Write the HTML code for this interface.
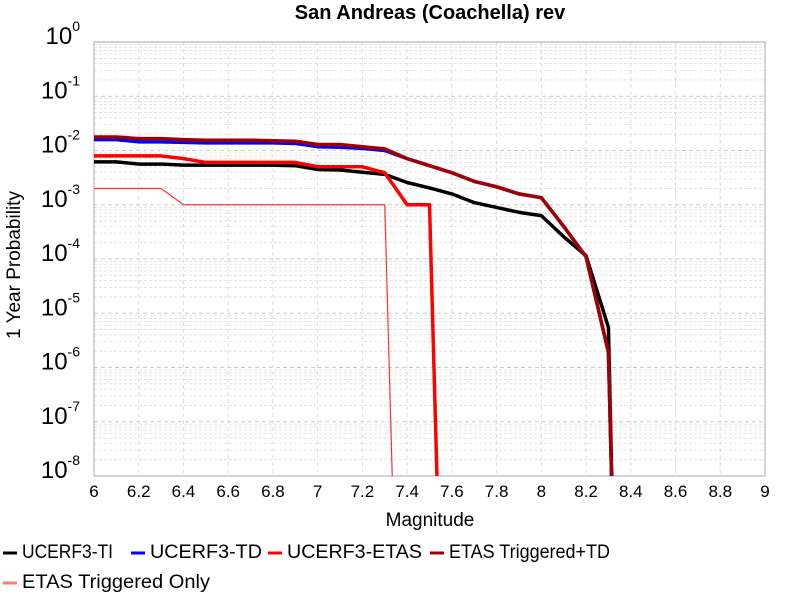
<!DOCTYPE html>
<html><head><meta charset="utf-8"><style>
body{margin:0;background:#fff;}
svg{display:block;font-family:"Liberation Sans",sans-serif;}
</style></head><body>
<svg id="chart" width="800" height="600" xmlns="http://www.w3.org/2000/svg">
<text x="430" y="19" text-anchor="middle" font-size="20" font-weight="bold">San Andreas (Coachella) rev</text>
<g id="grid"></g>
<g id="axes"></g>
<g id="series"></g>
<text x="430" y="526" text-anchor="middle" font-size="19">Magnitude</text>
<text transform="translate(20,265) rotate(-90)" text-anchor="middle" font-size="19">1 Year Probability</text>
<g id="legend"></g>
</svg>
<script>
const xTicks=[6,6.2,6.4,6.6,6.8,7,7.2,7.4,7.6,7.8,8,8.2,8.4,8.6,8.8,9];
const xTickLabels=["6","6.2","6.4","6.6","6.8","7","7.2","7.4","7.6","7.8","8","8.2","8.4","8.6","8.8","9"];
const yDecades=[0,-1,-2,-3,-4,-5,-6,-7,-8];
const tiX=[6,6.1,6.2,6.3,6.4,6.5,6.6,6.7,6.8,6.9,7,7.1,7.2,7.3,7.4,7.5,7.6,7.7,7.8,7.9,8,8.1,8.2,8.3,8.32];
const tiY=[-2.21,-2.21,-2.25,-2.25,-2.27,-2.27,-2.27,-2.27,-2.27,-2.28,-2.35,-2.36,-2.40,-2.44,-2.59,-2.69,-2.80,-2.96,-3.05,-3.14,-3.20,-3.59,-3.94,-5.26,-9];
const tdX=[6,6.1,6.2,6.3,6.4,6.5,6.6,6.7,6.8,6.9,7,7.1,7.2,7.3,7.4,7.5,7.6,7.7,7.8,7.9,8,8.1,8.2,8.3,8.32];
const tdY=[-1.80,-1.80,-1.84,-1.84,-1.85,-1.86,-1.86,-1.86,-1.86,-1.87,-1.93,-1.94,-1.96,-2.00,-2.15,-2.28,-2.41,-2.57,-2.67,-2.80,-2.87,-3.40,-3.96,-5.72,-9];
const etasX=[6,6.1,6.2,6.3,6.4,6.5,6.6,6.7,6.8,6.9,7,7.1,7.2,7.3,7.4,7.5,7.54];
const etasY=[-2.10,-2.10,-2.10,-2.10,-2.15,-2.22,-2.22,-2.22,-2.22,-2.22,-2.30,-2.30,-2.30,-2.41,-3.0,-3.0,-9];
const trigTdX=[6,6.1,6.2,6.3,6.4,6.5,6.6,6.7,6.8,6.9,7,7.1,7.2,7.3,7.4,7.5,7.6,7.7,7.8,7.9,8,8.1,8.2,8.3,8.32];
const trigTdY=[-1.75,-1.75,-1.78,-1.78,-1.80,-1.81,-1.81,-1.81,-1.82,-1.83,-1.89,-1.89,-1.93,-1.97,-2.15,-2.28,-2.41,-2.57,-2.67,-2.80,-2.87,-3.40,-3.96,-5.72,-9];
const trigOnlyX=[6,6.1,6.2,6.3,6.4,6.5,6.6,6.7,6.8,6.9,7,7.1,7.2,7.3,7.34];
const trigOnlyY=[-2.70,-2.70,-2.70,-2.70,-3.0,-3.0,-3.0,-3.0,-3.0,-3.0,-3.0,-3.0,-3.0,-3.0,-9];
const seriesNames=["UCERF3-TI","UCERF3-TD","UCERF3-ETAS","ETAS Triggered+TD","ETAS Triggered Only"];

const L=94,R=765,T=42,B=476,NS="http://www.w3.org/2000/svg";
const xs=v=>L+(v-6)/3*(R-L);
const ys=v=>T+(0-v)/8*(B-T);
function mk(tag,attrs,parent){const e=document.createElementNS(NS,tag);for(const k in attrs)e.setAttribute(k,attrs[k]);parent.appendChild(e);return e;}
const grid=document.getElementById('grid'),axes=document.getElementById('axes'),ser=document.getElementById('series'),leg=document.getElementById('legend');
for(let d=0;d<8;d++){for(let m=2;m<=9;m++){const y=ys(-d-1+Math.log10(m));
const ln=mk('line',{x1:L,x2:R,y1:y,y2:y,stroke:'#ddd','stroke-width':0.8,'stroke-dasharray':'3,2'},grid);

}}
yDecades.forEach(d=>{const y=ys(d);
const ln=mk('line',{x1:L,x2:R,y1:y,y2:y,stroke:'#ccc','stroke-width':1,'stroke-dasharray':'4,3'},grid);


const t=mk('text',{x:80,y:y+2,'text-anchor':'end','font-size':24},axes);


t.textContent='10';
const s=mk('tspan',{dy:-13,'font-size':14},t);s.textContent=String(d);});
xTicks.forEach((v,i)=>{const x=xs(v);
const ln=mk('line',{x1:x,x2:x,y1:T,y2:B,stroke:'#ddd','stroke-width':1,'stroke-dasharray':'4,3'},grid);


const t=mk('text',{x:x,y:497,'text-anchor':'middle','font-size':17},axes);


t.textContent=xTickLabels[i];});
const fr=mk('rect',{x:L,y:T,width:R-L,height:B-T,fill:'none',stroke:'#aaa','stroke-width':1},axes);


mk('clipPath',{id:'clip'},ser);
mk('rect',{x:L,y:T,width:R-L,height:B-T},ser.lastChild);
const defs=[[tiX,tiY,'#000',3.5,'series-ucerf3-ti'],[tdX,tdY,'#0000ff',3.5,'series-ucerf3-td'],[etasX,etasY,'#ff0000',3.5,'series-ucerf3-etas'],[trigTdX,trigTdY,'#a00000',3.5,'series-etas-triggered-td'],[trigOnlyX,trigOnlyY,'#ff3030',1.2,'series-etas-triggered-only']];
const order=[4,0,1,2,3];
order.forEach(i=>{const [X,Y,c,w,n]=defs[i];
const p=mk('polyline',{points:X.map((x,j)=>xs(x)+','+ys(Y[j])).join(' '),fill:'none',stroke:c,'stroke-width':w,'stroke-linejoin':'round','clip-path':'url(#clip)'},ser);

});
const legPos=[[3,552,91],[131,552,112],[268,552,135],[430,552,161],[3,582,188]];
seriesNames.forEach((s,i)=>{const [x,y,w]=legPos[i];
const g=mk('g',{},leg);


mk('line',{x1:x,x2:x+14,y1:y+1,y2:y+1,stroke:i==4?'#f77':defs[i][2],'stroke-width':3},g);
const t=mk('text',{x:x+19,y:y+6,'font-size':19,textLength:w,lengthAdjust:'spacingAndGlyphs'},g);t.textContent=s;});
</script>
</body></html>
